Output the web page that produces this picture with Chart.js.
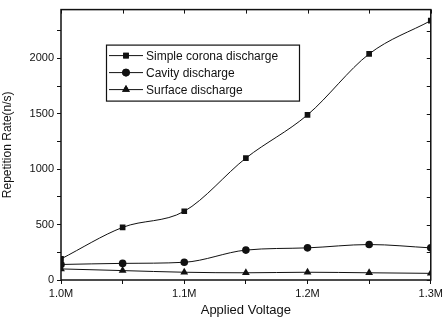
<!DOCTYPE html>
<html>
<head>
<meta charset="utf-8">
<script src="https://cdn.jsdelivr.net/npm/chart.js@4"></script>
<style>
  html, body { margin: 0; padding: 0; background: #fff; }
  #wrap { width: 446px; height: 323px; }
</style>
</head>
<body>
<div id="wrap"><canvas id="chart" width="446" height="323"></canvas></div>
<script>
// applied voltage (M)
const voltages = [1.0, 1.05, 1.1, 1.15, 1.2, 1.25, 1.3];
const coronaRate = [190, 475, 620, 1100, 1490, 2040, 2340];
const cavityRate = [140, 150, 160, 270, 290, 320, 290];
const surfaceRate = [100, 85, 70, 65, 70, 65, 60];
const seriesNames = ['Simple corona discharge', 'Cavity discharge', 'Surface discharge'];
const xTickLabels = ['1.0M', '1.1M', '1.2M', '1.3M'];
const yTickLabels = [0, 500, 1000, 1500, 2000];

const ink = '#111';
const font = '"Liberation Sans", Arial, sans-serif';

const mkSet = (label, values, style, radius) => ({
  label,
  data: voltages.map((v, i) => ({ x: v, y: values[i] })),
  borderColor: ink,
  backgroundColor: ink,
  borderWidth: 1,
  pointStyle: style,
  pointRadius: radius,
  pointBorderWidth: 0,
  cubicInterpolationMode: 'monotone',
});

// frame, mirrored ticks and the boxed legend
const framePlugin = {
  id: 'frame',
  afterDraw(chart) {
    const { ctx, chartArea: a, scales } = chart;
    ctx.save();
    ctx.strokeStyle = ink;
    ctx.lineWidth = 1.5;
    ctx.strokeRect(a.left, a.top, a.right - a.left, a.bottom - a.top);

    ctx.lineWidth = 1;
    scales.y.ticks.forEach(t => {
      const y = Math.round(scales.y.getPixelForValue(t.value)) + 0.5;
      ctx.beginPath();
      ctx.moveTo(a.right - 4, y);
      ctx.lineTo(a.right, y);
      ctx.stroke();
    });
    scales.x.ticks.forEach(t => {
      const x = Math.round(scales.x.getPixelForValue(t.value)) + 0.5;
      ctx.beginPath();
      ctx.moveTo(x, a.top);
      ctx.lineTo(x, a.top + 4);
      ctx.stroke();
    });

    // legend box
    const bx = a.left + 45, by = a.top + 35, bw = 193, bh = 56;
    ctx.fillStyle = '#fff';
    ctx.fillRect(bx, by, bw, bh);
    ctx.lineWidth = 1.2;
    ctx.strokeRect(bx + 0.5, by + 0.5, bw, bh);
    ctx.font = '12px ' + font;
    ctx.textBaseline = 'middle';
    chart.data.datasets.forEach((ds, i) => {
      const y = by + 11 + i * 17;
      ctx.strokeStyle = ink;
      ctx.lineWidth = 1;
      ctx.beginPath();
      ctx.moveTo(bx + 3, y);
      ctx.lineTo(bx + 37, y);
      ctx.stroke();
      ctx.fillStyle = ink;
      Chart.helpers.drawPoint(ctx, {
        pointStyle: ds.pointStyle, radius: ds.pointRadius, rotation: 0, borderWidth: 0
      }, bx + 20, y);
      ctx.fill();
      ctx.fillText(ds.label, bx + 40, y + 1);
    });
    ctx.restore();
  }
};

new Chart(document.getElementById('chart'), {
  type: 'line',
  data: {
    datasets: [
      mkSet(seriesNames[0], coronaRate, 'rect', 4),
      mkSet(seriesNames[1], cavityRate, 'circle', 3.8),
      mkSet(seriesNames[2], surfaceRate, 'triangle', 4.5),
    ]
  },
  options: {
    responsive: false,
    animation: false,
    layout: { padding: { left: 0, right: 13, top: 4, bottom: 0 } },
    plugins: { legend: { display: false }, tooltip: { enabled: false } },
    scales: {
      x: {
        type: 'linear',
        min: 1.0,
        max: 1.3,
        border: { display: false },
        grid: { drawOnChartArea: false, drawTicks: true, tickLength: 4, color: ink },
        ticks: {
          stepSize: 0.05,
          autoSkip: false,
          maxRotation: 0,
          padding: 3,
          color: ink,
          font: { family: font, size: 11 },
          callback: v => {
            const k = Math.round((v - 1.0) * 10 * 100) / 100;
            return Number.isInteger(k) ? xTickLabels[k] : '';
          }
        },
        title: {
          display: true,
          text: 'Applied Voltage',
          color: ink,
          font: { family: font, size: 13 },
          padding: { top: 0, bottom: 5 }
        },
        afterFit: s => { s.height = 43; }
      },
      y: {
        min: 0,
        max: 2440,
        border: { display: false },
        grid: { drawOnChartArea: false, drawTicks: true, tickLength: 4, color: ink },
        afterBuildTicks: s => {
          const t = [];
          for (let v = 0; v <= 2250; v += 250) t.push({ value: v });
          s.ticks = t;
        },
        ticks: {
          autoSkip: false,
          padding: 3,
          color: ink,
          font: { family: font, size: 11 },
          callback: v => (yTickLabels.includes(v) ? String(v) : '')
        },
        title: {
          display: true,
          text: 'Repetition Rate(n/s)',
          color: ink,
          font: { family: font, size: 12 },
          padding: { top: 0, bottom: 4 }
        },
        afterFit: s => { s.width = 61; }
      }
    }
  },
  plugins: [framePlugin]
});
</script>
</body>
</html>
